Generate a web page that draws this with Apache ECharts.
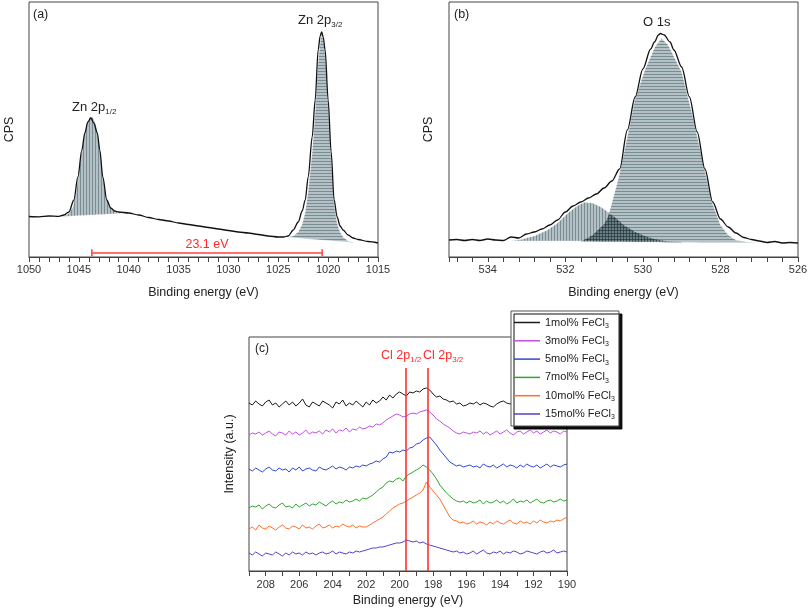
<!DOCTYPE html>
<html>
<head>
<meta charset="utf-8">
<script src="https://cdn.jsdelivr.net/npm/echarts@6/dist/echarts.min.js"></script>
<style>
html,body{margin:0;padding:0;background:#fff;}
#chart{width:808px;height:609px;}
</style>
</head>
<body>
<div id="chart"></div>
<script>
// ---------- Panel (a): Zn 2p ----------
const aEnergy = [1050,1049,1048,1047,1046.5,1046,1045.5,1045.1,1044.7,1044.4,1044.1,1043.8,1043.5,1043.15,1042.9,1042.6,1042.2,1041.8,1041.4,1041,1040,1039,1038,1037,1036,1035,1034,1033,1032,1031,1030,1029,1028,1027,1026,1025,1024.5,1024,1023.5,1023,1022.6,1022.3,1022,1021.6,1021.3,1021,1020.8,1020.65,1020.5,1020.3,1020,1019.7,1019.4,1019.1,1018.8,1018.5,1018,1017.5,1017,1016,1015];
const aEnvelope = [40.5,40.2,41,40.6,42,45,57,80,107,124,135,139,134,124,107,80,57,49,46,45,44,42,39.5,37.5,36,34,32.5,31,29.5,28,26.5,25,24,22.5,21,20,20,21,27,35,46,57,80,120,157,207,221,225,220,207,157,105,57,40,31,27,22,19,17.5,15.5,14];
const aP12Energy = [1046.8,1046.4,1046,1045.6,1045.2,1044.8,1044.5,1044.2,1043.9,1043.7,1043.5,1043.2,1042.9,1042.6,1042.3,1042,1041.6,1041.2,1040.6];
const aP12Fit = [40.3,41.5,43.5,50,70,100,120,133,140,140.5,138,128,108,82,62,52,47,45,43.7];
const aP12Base = [40.3,40.5,40.7,41.0,41.2,41.4,41.6,41.7,41.9,42.0,42.1,42.3,42.4,42.6,42.8,42.9,43.1,43.4,43.7];
const aP32Energy = [1024,1023.5,1023,1022.6,1022.3,1022,1021.6,1021.3,1021,1020.8,1020.65,1020.5,1020.3,1020,1019.7,1019.4,1019.1,1018.8,1018.5,1018,1017.3];
const aP32Fit = [19.7,21,25,33,45,66,105,145,195,215,222,218,204,152,98,52,34,25,20,16,14.3];
const aP32Base = [19.7,19.3,18.9,18.6,18.3,18.1,17.8,17.5,17.3,17.1,17.0,16.9,16.7,16.5,16.2,16.0,15.8,15.5,15.3,14.9,14.3];
const aSplitEnds = [1043.7, 1020.6];
const aSplitLevel = 4.3;
const aSplitText = '23.1 eV';

// ---------- Panel (b): O 1s ----------
const bEnergy = [535,534.8,534.6,534.4,534.2,534,533.8,533.6,533.4,533.2,533,532.8,532.6,532.4,532.2,532,531.8,531.6,531.4,531.2,531,530.8,530.6,530.4,530.2,530,529.8,529.7,529.6,529.55,529.45,529.3,529.2,529,528.8,528.6,528.4,528.2,528,527.8,527.6,527.4,527.2,527,526.8,526.6,526.4,526.2,526];
const bEnvelope = [17,17.5,16.5,17.5,16.5,18,17,16.5,20,19,23,25,28,32,37,45,51,55,59,63,69,76,88,127,160,188,208,215,222,223.5,222,215,207,190,160,125,88,55,38,30,24,19.5,17.5,16,14.5,15.5,14,14.5,14];
const bMainEnergy = [531.6,531.3,531,530.9,530.64,530.38,530.21,529.95,529.69,529.52,529.35,529,528.74,528.48,528.22,528,527.8,527.6,527.3,527];
const bMainFit = [15.5,22,33,40,77,124,157,187,210,218.7,212,185,145,100,55,32,22,17,15,14.5];
const bMainBase = [15.5,15.4,15.3,15.3,15.2,15.1,15.1,15,14.9,14.9,14.8,14.7,14.7,14.6,14.6,14.5,14.5,14.5,14.5,14.5];
const bSubEnergy = [533.4,533.15,532.8,532.46,532.2,531.94,531.7,531.51,531.3,531.08,530.9,530.73,530.5,530.21,529.95,529.69,529.35,529];
const bSubFit = [16,17.5,21,27,34,43.7,51,54.7,54,50,45,40,32,25.3,21,17.7,15.5,15];
const bSubBase = [16,16,16,16,16,15.9,15.9,15.9,15.8,15.8,15.8,15.7,15.7,15.6,15.6,15.5,15.5,15];
// region where the two components overlap (cross-hatched in the figure)
const bOverlapEnergy = [531.6,531.3,531.0,530.87,530.73,530.5,530.21,529.95,529.69,529.35,529.0];
const bOverlapTop = [15.5,22,33,43,40,32,25.3,21,17.7,15.5,15];
const bOverlapBase = [15.5,15.4,15.3,15.3,15.2,15.2,15.1,15,14.9,14.8,14.7];

// ---------- Panel (c): Cl 2p ----------
const cEnergy = [209.0,208.8,208.6,208.4,208.2,208.0,207.8,207.6,207.4,207.2,
207.0,206.8,206.6,206.4,206.2,206.0,205.8,205.6,205.4,205.2,
205.0,204.8,204.6,204.4,204.2,204.0,203.8,203.6,203.4,203.2,
203.0,202.8,202.6,202.4,202.2,202.0,201.8,201.6,201.4,201.2,
201.0,200.8,200.6,200.4,200.2,200.0,199.8,199.6,199.4,199.2,
199.0,198.8,198.6,198.4,198.2,198.0,197.8,197.6,197.4,197.2,
197.0,196.8,196.6,196.4,196.2,196.0,195.8,195.6,195.4,195.2,
195.0,194.8,194.6,194.4,194.2,194.0,193.8,193.6,193.4,193.2,
193.0,192.8,192.6,192.4,192.2,192.0,191.8,191.6,191.4,191.2,
191.0,190.8,190.6,190.4,190.2,190.0];
const c1 = [168,166,170,167,165,169,171,166,168,164,167,170,166,169,165,168,172,166,164,169,167,165,170,168,166,163,169,167,171,165,168,166,170,167,164,169,166,171,168,170,
174,171,176,173,177,179,177,175,179,178,180,179,182,183,181,177,174,175,172,171,169,170,167,168,165,166,
168,167,169,166,168,167,165,164,167,169,170,168,167,169,166,168,170,167,165,168,166,169,167,168,170,166,168,167,169,168];
const c3 = [136,138,137,139,136,138,140,137,135,139,138,136,140,137,139,136,138,141,137,139,
138,140,137,141,139,142,138,141,140,143,139,142,141,144,142,
143,145,144,147,146,148,151,153,155,157,
156,154,155,157,158,157,159,160,161,159,156,152,150,147,145,143,140,138,137,139,138,
137,139,138,140,137,139,136,138,140,137,139,141,138,136,139,140,137,139,141,138,140,137,139,141,138,140,139,137,140,139];
const c5 = [102,100,103,101,99,102,104,101,100,103,101,102,99,103,101,104,100,102,103,101,100,104,102,101,103,105,102,104,103,101,104,103,105,104,106,
105,107,108,110,109,112,114,119,118,120,
119,121,120,123,124,127,128,131,133,134,130,126,121,117,113,109,107,105,106,104,105,
106,104,105,103,107,105,104,106,103,105,107,104,106,105,103,106,104,107,105,104,106,103,105,107,104,106,105,104,106,107];
const c7 = [63,65,64,66,62,65,67,64,63,66,68,64,65,63,67,64,66,68,65,67,66,69,67,65,68,70,67,69,68,71,69,70,72,70,73,
72,74,76,79,82,84,88,90,89,92,
93,90,95,97,99,101,103,106,104,101,97,92,86,82,78,75,72,70,69,70,68,
70,68,69,71,67,70,68,69,71,68,70,67,69,72,68,70,69,71,68,70,72,69,68,70,71,69,70,72,70,71];
const c10 = [42,44,41,46,43,42,45,43,41,44,46,43,42,45,44,42,46,43,44,42,45,47,43,44,46,43,45,44,47,45,44,46,43,45,44,
44,46,48,50,52,54,57,60,63,65,
67,68,70,72,74,76,78,81,89,84,80,76,72,66,60,54,51,50,48,49,47,
48,50,47,49,48,46,49,47,50,48,47,49,51,48,47,50,48,49,47,50,48,51,49,48,50,49,51,50,52,54];
const c15 = [18,16,19,17,15,18,17,16,19,17,15,18,16,19,17,18,16,19,17,18,16,18,19,17,18,20,17,19,18,17,19,18,20,19,20,
21,22,23,23,24,24,25,26,27,28,
28,29,31,30,29,30,28,29,27,26,25,24,23,22,21,20,19,20,18,19,17,
18,20,17,19,21,18,17,19,18,20,17,19,18,20,19,17,18,20,19,18,17,19,20,18,19,21,18,19,20,19];
const cNames = ['1mol% FeCl3','3mol% FeCl3','5mol% FeCl3','7mol% FeCl3','10mol% FeCl3','15mol% FeCl3'];
const cSeries = [c1, c3, c5, c7, c10, c15];
const cColors = ['#1a1a1a','#c04fe6','#3046d8','#2fa72f','#ff6f2a','#5a3fc4'];
const clPeaks = [199.66, 198.32];
const clLineTop = 203;

// ---------- helpers ----------
const FONT = 'Liberation Sans, Arial, Helvetica, sans-serif';
function zip(xs, ys) { return xs.map((x, i) => [x, ys[i]]); }
function stripes(mode) {
  const c = document.createElement('canvas');
  c.width = 3; c.height = 3;
  const g = c.getContext('2d');
  if (mode === 'x') {
    g.fillStyle = 'rgba(40,58,66,0.30)';
    g.fillRect(0, 0, 3, 3);
    g.fillStyle = 'rgba(30,45,52,0.50)';
    g.fillRect(0, 2, 3, 1); g.fillRect(2, 0, 1, 3);
    return c;
  }
  g.fillStyle = 'rgba(78,108,116,0.42)';
  g.fillRect(0, 0, 3, 3);
  g.fillStyle = 'rgba(78,108,116,0.62)';
  if (mode === 'h') g.fillRect(0, 2, 3, 1); else g.fillRect(2, 0, 1, 3);
  return c;
}
const hPat = { image: stripes('h'), repeat: 'repeat' };
const vPat = { image: stripes('v'), repeat: 'repeat' };
const xPat = { image: stripes('x'), repeat: 'repeat' };

// filled band between baseline and fit, drawn through the axis scales
function polySeries(xi, energy, fit, base, fill, stroke) {
  return {
    type: 'custom', xAxisIndex: xi, yAxisIndex: xi, silent: true, z: 2,
    data: energy.map((e, i) => [e, fit[i], base[i]]),
    encode: { x: 0, y: 1 },
    renderItem: function (params, api) {
      if (params.dataIndex !== 0) return null;
      const pts = [];
      for (let i = 0; i < energy.length; i++) pts.push(api.coord([energy[i], fit[i]]));
      for (let i = energy.length - 1; i >= 0; i--) pts.push(api.coord([energy[i], base[i]]));
      return { type: 'polygon', shape: { points: pts },
        style: { fill: fill, stroke: stroke === false ? null : 'rgba(255,255,255,0.55)', lineWidth: 0.6 } };
    }
  };
}

function xAxisCfg(gi, min, max, interval, major, nameGap, margin) {
  return {
    gridIndex: gi, type: 'value', min: min, max: max, interval: interval, inverse: true,
    name: 'Binding energy (eV)', nameLocation: 'middle', nameGap: nameGap,
    nameTextStyle: { fontSize: 12.5, color: '#222', fontFamily: FONT },
    axisLine: { show: true, onZero: false, lineStyle: { color: '#444', width: 1 } },
    axisTick: { show: true, inside: false, length: 5, lineStyle: { color: '#444' } },
    axisLabel: { margin: margin, fontSize: 11, color: '#333', fontFamily: FONT, showMaxLabel: true, showMinLabel: true,
      formatter: function (v) { const r = v / major; return Math.abs(r - Math.round(r)) < 1e-6 ? String(Math.round(v)) : ''; } },
    splitLine: { show: false }
  };
}
function yAxisCfg(gi, max, name, nameGap) {
  return {
    gridIndex: gi, type: 'value', min: 0, max: max,
    name: name, nameLocation: 'middle', nameGap: nameGap, nameRotate: 90,
    nameTextStyle: { fontSize: 12.5, color: '#222', fontFamily: FONT },
    axisLine: { show: false }, axisTick: { show: false }, axisLabel: { show: false },
    splitLine: { show: false }
  };
}
function subText(main, sub, x, y, size, color) {
  return {
    type: 'text', left: x, top: y, silent: true,
    style: {
      text: '{m|' + main + '}{s|' + sub + '}',
      rich: {
        m: { fontSize: size, lineHeight: 16, fill: color, fontFamily: FONT },
        s: { fontSize: 8, lineHeight: 8, verticalAlign: 'bottom', fill: color, fontFamily: FONT }
      }
    }
  };
}
function plainText(t, x, y, size, color) {
  return { type: 'text', left: x, top: y, silent: true,
    style: { text: t, fontSize: size, fill: color, fontFamily: FONT } };
}

const series = [];
series.push(polySeries(0, aP12Energy, aP12Fit, aP12Base, vPat));
series.push(polySeries(0, aP32Energy, aP32Fit, aP32Base, hPat));
series.push({ type: 'line', xAxisIndex: 0, yAxisIndex: 0, symbol: 'none', smooth: 0.3, smoothMonotone: 'x',
  lineStyle: { color: '#111', width: 1.3 }, data: zip(aEnergy, aEnvelope), z: 5, silent: true });
series.push({ type: 'line', xAxisIndex: 0, yAxisIndex: 0, data: [], silent: true,
  markLine: { silent: true, symbol: ['rect', 'rect'], symbolSize: [7, 1.5], animation: false,
    lineStyle: { color: '#ff4040', width: 1.5, type: 'solid' },
    label: { show: true, position: 'middle', formatter: aSplitText, color: '#ff2a2a', fontSize: 12.5, fontFamily: FONT, distance: 2 },
    data: [[{ coord: [aSplitEnds[0], aSplitLevel] }, { coord: [aSplitEnds[1], aSplitLevel] }]] } });

series.push(polySeries(1, bSubEnergy, bSubFit, bSubBase, vPat));
series.push(polySeries(1, bMainEnergy, bMainFit, bMainBase, hPat));
series.push(polySeries(1, bOverlapEnergy, bOverlapTop, bOverlapBase, xPat, false));
series.push({ type: 'line', xAxisIndex: 1, yAxisIndex: 1, symbol: 'none', smooth: 0.3, smoothMonotone: 'x',
  lineStyle: { color: '#111', width: 1.3 }, data: zip(bEnergy, bEnvelope), z: 5, silent: true });

cSeries.forEach((arr, i) => {
  series.push({ name: cNames[i], type: 'line', xAxisIndex: 2, yAxisIndex: 2, symbol: 'none',
    lineStyle: { color: cColors[i], width: 1 }, itemStyle: { color: cColors[i] },
    data: zip(cEnergy, arr), z: 3, silent: true });
});
series.push({ type: 'line', xAxisIndex: 2, yAxisIndex: 2, data: [], silent: true, z: 6,
  markLine: { silent: true, symbol: 'none', animation: false,
    lineStyle: { color: '#ff3030', width: 1.6, type: 'solid' }, label: { show: false },
    data: clPeaks.map(p => [{ coord: [p, 0] }, { coord: [p, clLineTop] }]) } });

const option = {
  animation: false,
  backgroundColor: '#fff',
  textStyle: { fontFamily: FONT },
  grid: [
    { left: 29, top: 2, width: 349, height: 255, show: true, borderColor: '#444', borderWidth: 1, backgroundColor: 'transparent', containLabel: false, outerBoundsMode: 'none' },
    { left: 449, top: 2, width: 349, height: 255, show: true, borderColor: '#444', borderWidth: 1, backgroundColor: 'transparent', containLabel: false, outerBoundsMode: 'none' },
    { left: 249, top: 337, width: 318, height: 234, show: true, borderColor: '#444', borderWidth: 1, backgroundColor: 'transparent', containLabel: false, outerBoundsMode: 'none' }
  ],
  xAxis: [
    xAxisCfg(0, 1015, 1050, 1, 5, 29, 7),
    xAxisCfg(1, 526, 535, 0.4, 2, 29, 7),
    xAxisCfg(2, 190, 209, 1, 2, 23, 8)
  ],
  yAxis: [
    yAxisCfg(0, 255, 'CPS', 13),
    yAxisCfg(1, 255, 'CPS', 14),
    yAxisCfg(2, 234, 'Intensity (a.u.)', 13)
  ],
  legend: {
    data: cNames, orient: 'vertical', left: 511, top: 311,
    icon: 'rect', itemWidth: 26, itemHeight: 1.5, itemGap: 5.8, padding: [6, 4, 5, 3],
    backgroundColor: '#fff', borderColor: '#555', borderWidth: 1,
    shadowColor: 'rgba(0,0,0,0.95)', shadowBlur: 0, shadowOffsetX: 3, shadowOffsetY: 3,
    selectedMode: false,
    formatter: n => '{t|' + n.slice(0, -1) + '}{s|' + n.slice(-1) + '}',
    textStyle: { fontSize: 11, color: '#222', fontFamily: FONT,
      rich: { t: { fontSize: 11, lineHeight: 14, fontFamily: FONT, color: '#222' },
              s: { fontSize: 7, lineHeight: 7, verticalAlign: 'bottom', fontFamily: FONT, color: '#222' } } }
  },
  graphic: [
    plainText('(a)', 33, 8, 12.5, '#222'),
    plainText('(b)', 454, 8, 12.5, '#222'),
    plainText('(c)', 255, 343, 12, '#222'),
    subText('Zn 2p', '1/2', 72, 101, 13, '#222'),
    subText('Zn 2p', '3/2', 298, 14, 13, '#222'),
    plainText('O 1s', 643, 16, 13, '#222'),
    subText('Cl 2p', '1/2', 381, 349, 12.5, '#ff2a2a'),
    subText('Cl 2p', '3/2', 423, 349, 12.5, '#ff2a2a')
  ],
  series: series
};
const chart = echarts.init(document.getElementById('chart'), null, { renderer: 'canvas' });
chart.setOption(option);
</script>
</body>
</html>
